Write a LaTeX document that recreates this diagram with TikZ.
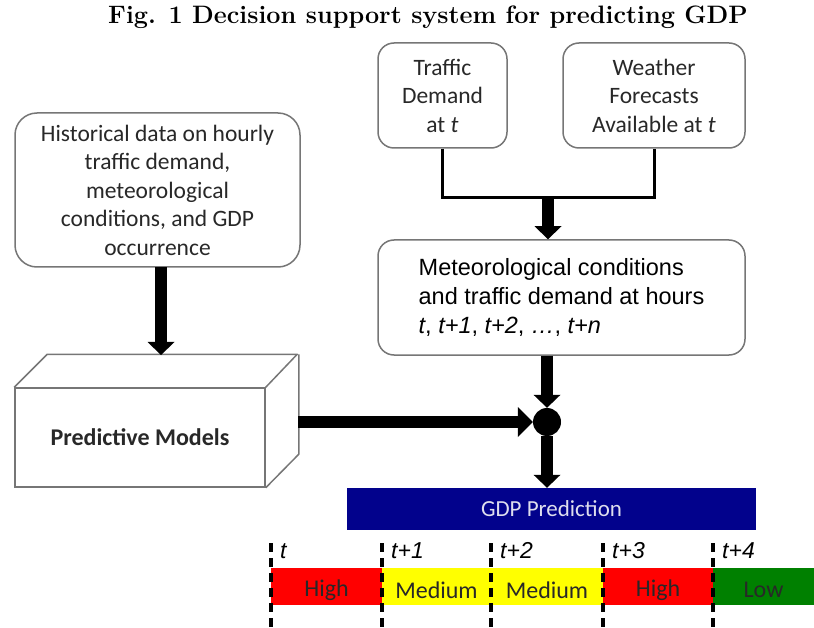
\documentclass[tikz,border=0pt]{standalone}
\usepackage{fontspec}
\newfontfamily\carlito{Carlito}
\newfontfamily\arialike{Liberation Sans}
\usetikzlibrary{arrows.meta,calc}
\definecolor{boxline}{RGB}{118,118,118}
\definecolor{boxtext}{RGB}{40,40,40}
\definecolor{gdpblue}{RGB}{2,2,140}
\definecolor{gdptext}{RGB}{222,222,238}
\definecolor{lvred}{RGB}{255,0,0}
\definecolor{lvyellow}{RGB}{255,255,0}
\definecolor{lvgreen}{RGB}{0,128,0}
\tikzset{
  roundbox/.style={draw=boxline, line width=1.5pt, rounded corners=16pt, fill=white,
    text=boxtext, align=center, inner sep=0pt,
    font=\carlito\fontsize{23.5}{28.5}\selectfont},
  bigarrow/.style={line width=12pt, -{Triangle[width=27pt,length=13pt,line width=0pt]}},
  thinlink/.style={line width=3pt},
  slot/.style={dash pattern=on 9pt off 6pt, line width=3.5pt},
  level/.style={inner sep=0pt, text=boxtext, font=\carlito\fontsize{24}{26}\selectfont},
  tlabel/.style={anchor=base west, inner sep=0pt, font=\arialike\itshape\fontsize{23}{26}\selectfont},
}
\begin{document}
\begin{tikzpicture}[x=1pt,y=-1pt]
\useasboundingbox (0,0) rectangle (814,628);

% title
\node (title) at (428,17) {\fontsize{25.2}{28}\selectfont\bfseries Fig. 1 Decision support system for predicting GDP};

% input boxes
\node[roundbox, minimum width=129pt, minimum height=105pt] (traffic) at (442.5,95.5)
  {\rule{0pt}{6pt}Traffic\\Demand\\at \textit{t}};
\node[roundbox, minimum width=182pt, minimum height=105pt] (weather) at (654,95.5)
  {\rule{0pt}{6pt}Weather\\Forecasts\\Available at \textit{t}};
\node[roundbox, rounded corners=22pt, minimum width=285pt, minimum height=154pt] (hist) at (157.5,190)
  {\rule{0pt}{6pt}Historical data on hourly\\traffic demand,\\meteorological\\conditions, and GDP\\occurrence};
\node[roundbox, align=left, text=black, font=\arialike\fontsize{23.5}{29}\selectfont,
  minimum width=367pt, minimum height=115pt] (meteo) at (561.5,297.5)
  {Meteorological conditions\\and traffic demand at hours\\\textit{t}, \textit{t+1}, \textit{t+2}, \textit{…}, \textit{t+n}};

% predictive models block (front face plus top and right faces)
\node[draw=boxline, line width=1.5pt, minimum width=250pt, minimum height=99pt, inner sep=0pt,
  font=\carlito\bfseries\fontsize{24}{26}\selectfont, text=boxtext] (cube) at (140,437.5) {Predictive Models};
\draw[boxline, line width=1.5pt, line join=round]
  (cube.north west) -- ++(33,-33) -- ++(250,0) -- (cube.north east)
  ++(33,-33) -- ++(0,100) -- (cube.south east);

% merge point
\node[circle, fill=black, minimum size=28pt, inner sep=0pt] (dot) at (547,422) {};

% prediction bar
\node[fill=gdpblue, minimum width=409pt, minimum height=42pt, inner sep=0pt,
  text=gdptext, font=\carlito\fontsize{23}{24}\selectfont] (gdp) at (551.5,509) {GDP Prediction};

% connectors
\coordinate (j) at (548,198);
\coordinate (histout) at (161,267);
\coordinate (cubetop) at (161,355);
\draw[thinlink] (traffic.south) |- (j) -| (weather.south);
\draw[bigarrow] (j) -- (j |- meteo.north);
\draw[bigarrow] (histout) -- (cubetop);
\draw[bigarrow] (dot.north |- meteo.south) -- (dot.north);
\coordinate (cr) at (298,422);
\draw[bigarrow, -{Triangle[width=30pt,length=15pt,line width=0pt]}] (cr) -- (dot.west);
\draw[bigarrow] (dot.south) -- (dot.south |- gdp.north);

% timeline levels
\path[fill=lvred]    (271,568) rectangle (382,605);
\path[fill=lvyellow] (382,568) rectangle (491,605);
\path[fill=lvyellow] (491,568) rectangle (603,605);
\path[fill=lvred]    (603,568) rectangle (713,605);
\path[fill=lvgreen]  (713,568) rectangle (814,605);
\node[level] (l0) at (326.5,590) {High};
\node[level] (l1) at (436.5,590) {Medium};
\node[level] (l2) at (547,590)   {Medium};
\node[level] (l3) at (658,590)   {High};
\node[level] (l4) at (763.5,590) {Low};

% hour marks
\foreach \x/\lab [count=\i] in {271/t, 382/t+1, 491/t+2, 603/t+3, 713/t+4}{
  \draw[slot] (\x,543) -- (\x,628);
  \node[tlabel] (h\i) at (\x+9,558) {\lab};
}
\end{tikzpicture}
\end{document}
